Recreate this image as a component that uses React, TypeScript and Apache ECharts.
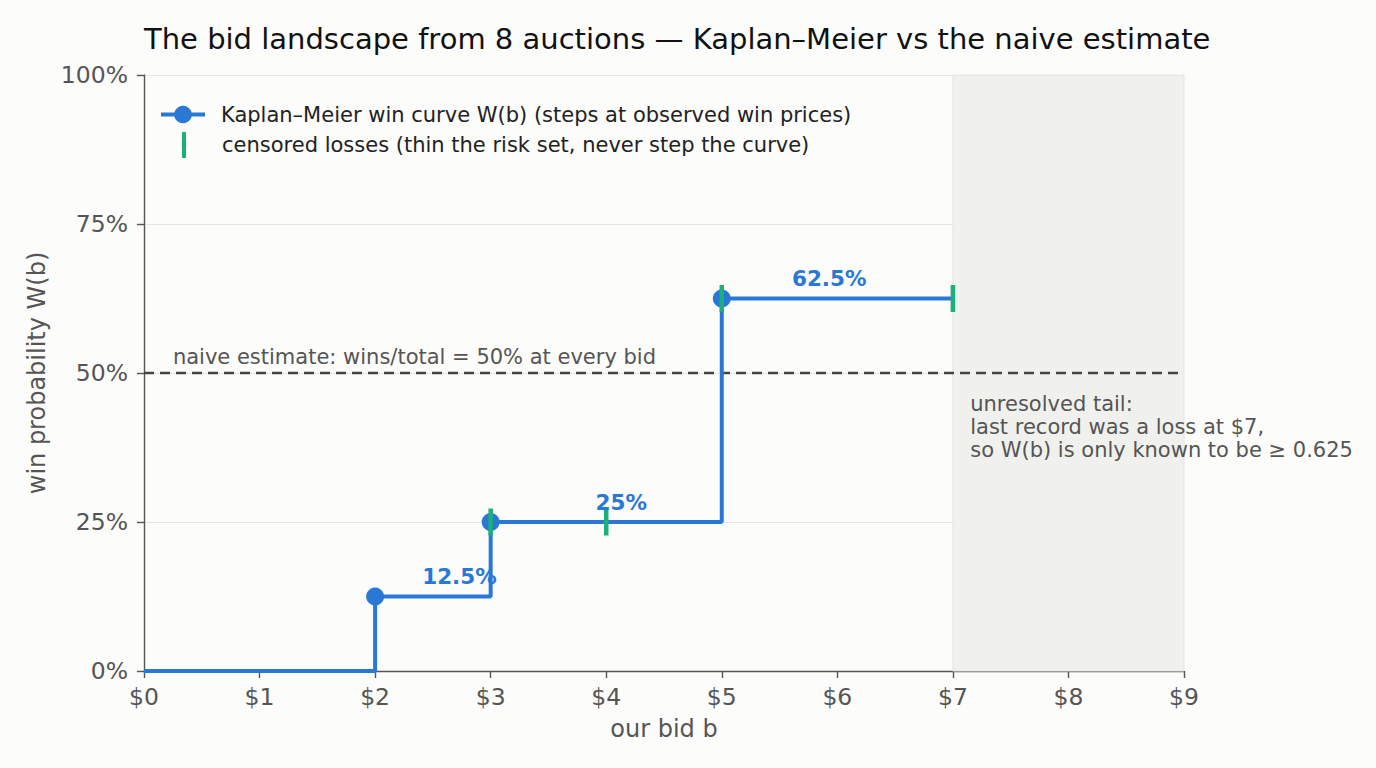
import { useEffect, useRef } from 'react'
import * as echarts from 'echarts'

type EChartsOption = Record<string, any>

// bids on the x axis, in dollars
const bidTicks = [0, 1, 2, 3, 4, 5, 6, 7, 8, 9]

// Kaplan–Meier curve vertices: W(b) holds until the next observed win price
const kmBids = [0, 2, 3, 5, 7]
const kmWins = [0, 0.125, 0.25, 0.625, 0.625]
const winPrices = [2, 3, 5]

// censored losses (bid, curve level at that bid)
const lossBids = [3, 4, 5, 7]
const lossLevels = [0.25, 0.25, 0.625, 0.625]

const naiveRate = 0.5

// step annotations
const stepLabels = ['12.5%', '25%', '62.5%']
const stepLabelBids = [2.73, 4.13, 5.93]
const stepLabelLevels = [0.125, 0.25, 0.625]

// unresolved tail region
const tailFrom = 7
const tailTo = 9

const BLUE = '#2a78d6'
const GREEN = '#1aaf7c'
const FONT = 'DejaVu Sans'

const KM_NAME = 'Kaplan–Meier win curve W(b) (steps at observed win prices)'
const LOSS_NAME = 'censored losses (thin the risk set, never step the curve)'

export default function App() {
  const chartRef = useRef<HTMLDivElement>(null)

  useEffect(() => {
    if (!chartRef.current) return
    const chart = echarts.init(chartRef.current, undefined, { renderer: 'svg' })

    const option: EChartsOption = {
      animation: false,
      backgroundColor: '#fcfcfa',
      textStyle: { fontFamily: FONT },
      title: {
        text: 'The bid landscape from 8 auctions — Kaplan–Meier vs the naive estimate',
        left: 139,
        top: 19,
        textStyle: { fontFamily: FONT, fontSize: 29, fontWeight: 'normal', color: '#111' },
      },
      grid: { left: 144, right: 192, top: 75, bottom: 97 },
      legend: [
        {
          data: [KM_NAME],
          left: 154,
          top: 99,
          itemWidth: 44,
          itemHeight: 22,
          lineStyle: { width: 4 },
          textStyle: { fontFamily: FONT, fontSize: 21, color: '#222', padding: [0, 0, 0, 11] },
          selectedMode: false,
        },
        {
          data: [{ name: LOSS_NAME, icon: 'rect' }],
          left: 177,
          top: 127,
          itemWidth: 4,
          itemHeight: 26,
          itemStyle: { color: GREEN, opacity: 1 },
          textStyle: { fontFamily: FONT, fontSize: 21, color: '#222', padding: [0, 0, 0, 31] },
          selectedMode: false,
        },
      ],
      xAxis: {
        type: 'value',
        min: 0,
        max: 9,
        interval: 1,
        name: 'our bid b',
        nameLocation: 'middle',
        nameGap: 46,
        nameTextStyle: { fontFamily: FONT, fontSize: 24, color: '#555' },
        axisLine: { show: true, lineStyle: { color: '#555', width: 1.4 } },
        axisTick: { show: true, length: 7, lineStyle: { color: '#555', width: 1.4 } },
        axisLabel: {
          fontFamily: FONT,
          fontSize: 23.5,
          color: '#555',
          margin: 14,
          formatter: (v: number) => '$' + bidTicks[v],
        },
        splitLine: { show: false },
      },
      yAxis: {
        type: 'value',
        min: 0,
        max: 1,
        interval: 0.25,
        name: 'win probability W(b)',
        nameLocation: 'middle',
        nameGap: 95,
        nameTextStyle: { fontFamily: FONT, fontSize: 24, color: '#555' },
        axisLine: { show: true, lineStyle: { color: '#555', width: 1.4 } },
        axisTick: { show: true, length: 7, lineStyle: { color: '#555', width: 1.4 } },
        axisLabel: {
          fontFamily: FONT,
          fontSize: 23.5,
          color: '#555',
          margin: 16,
          formatter: (v: number) => Math.round(v * 100) + '%',
        },
        splitLine: { show: true, lineStyle: { color: '#e6e6e4', width: 1.2 } },
      },
      series: [
        {
          name: 'naive',
          type: 'line',
          z: 1,
          silent: true,
          symbol: 'none',
          data: [
            [0, naiveRate],
            [9, naiveRate],
          ],
          lineStyle: { color: '#444', width: 2.5, type: [10, 6] },
          markArea: {
            silent: true,
            itemStyle: { color: '#f0f0ec', borderColor: '#e4e4e0', borderWidth: 1 },
            data: [[{ xAxis: tailFrom }, { xAxis: tailTo }]],
          },
        },
        {
          name: KM_NAME,
          type: 'line',
          z: 3,
          step: 'end',
          symbol: 'circle',
          symbolSize: 18,
          showAllSymbol: true,
          color: BLUE,
          lineStyle: { color: BLUE, width: 4 },
          itemStyle: { color: BLUE },
          data: kmBids.map((b, i) => ({
            value: [b, kmWins[i]],
            symbol: winPrices.includes(b) ? 'circle' : 'none',
          })),
        },
        {
          name: LOSS_NAME,
          type: 'scatter',
          z: 4,
          symbol: 'rect',
          symbolSize: [4.5, 27],
          color: GREEN,
          itemStyle: { color: GREEN, opacity: 1 },
          data: lossBids.map((b, i) => [b, lossLevels[i]]),
        },
        {
          name: 'step labels',
          type: 'scatter',
          z: 5,
          silent: true,
          symbolSize: 0,
          itemStyle: { opacity: 1 },
          data: stepLabels.map((t, i) => ({ name: t, value: [stepLabelBids[i], stepLabelLevels[i]] })),
          label: {
            show: true,
            position: 'inside',
            offset: [0, -20],
            formatter: (p: any) => p.name,
            fontFamily: FONT,
            fontSize: 21.5,
            fontWeight: 'bold',
            color: BLUE,
          },
        },
        {
          name: 'notes',
          type: 'scatter',
          z: 5,
          silent: true,
          symbolSize: 0,
          itemStyle: { opacity: 1 },
          data: [
            {
              name: 'naive estimate: wins/total = 50% at every bid',
              value: [0.25, 0.527],
              label: { verticalAlign: 'middle' },
            },
            {
              name: 'unresolved tail:\nlast record was a loss at $7,\nso W(b) is only known to be ≥ 0.625',
              value: [7.15, 0.468],
            },
          ],
          label: {
            show: true,
            position: [0, 0],
            align: 'left',
            verticalAlign: 'top',
            formatter: (p: any) => p.name,
            fontFamily: FONT,
            fontSize: 21,
            lineHeight: 23,
            color: '#555',
          },
        },
      ],
    }

    chart.setOption(option)
    return () => {
      chart.dispose()
    }
  }, [])

  return (
    <div
      ref={chartRef}
      style={{ position: 'fixed', left: 0, top: 0, width: 1376, height: 768, background: '#fcfcfa' }}
    />
  )
}
